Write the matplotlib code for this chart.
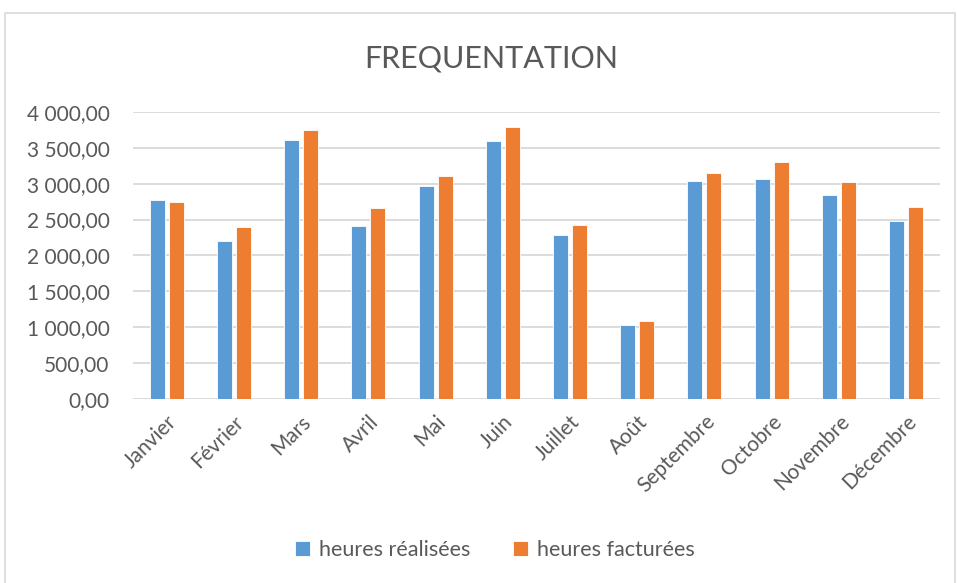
import numpy as np
import matplotlib
matplotlib.use("Agg")
import matplotlib.pyplot as plt
from matplotlib.ticker import FuncFormatter, MultipleLocator
from matplotlib.patches import Rectangle

months = ["Janvier", "Février", "Mars", "Avril", "Mai", "Juin", "Juillet",
          "Août", "Septembre", "Octobre", "Novembre", "Décembre"]
realisees = [2770, 2195, 3605, 2408, 2965, 3591, 2283, 1030, 3035, 3072, 2840, 2482]
facturees = [2752, 2394, 3749, 2659, 3104, 3786, 2427, 1090, 3146, 3304, 3021, 2677]

BLUE = "#5B9BD5"
ORANGE = "#ED7D31"
GRID = "#D9D9D9"
TEXT = "#595959"

plt.rcParams["font.family"] = ["Lato", "DejaVu Sans"]

fig = plt.figure(figsize=(9.57, 5.83), dpi=100)
fig.patches.append(Rectangle((5 / 957, -0.01), 950 / 957, 0.01 + 570 / 583,
                             transform=fig.transFigure, fill=False,
                             edgecolor=GRID, linewidth=1.2))

ax = fig.add_axes([0.139, 0.3156, 0.843, 0.4924])
x = np.arange(len(months))
w = 0.223
off = 0.141
ax.bar(x - off, realisees, w, color=BLUE, edgecolor="white", linewidth=0.6,
       label="heures réalisées", zorder=3)
ax.bar(x + off, facturees, w, color=ORANGE, edgecolor="white", linewidth=0.6,
       label="heures facturées", zorder=3)

ax.set_xlim(-0.5, len(months) - 0.5)
ax.set_ylim(0, 4000)
ax.yaxis.set_major_locator(MultipleLocator(500))
ax.yaxis.set_major_formatter(FuncFormatter(
    lambda v, p: f"{v:,.2f}".replace(",", " ").replace(".", ",")))
ax.grid(axis="y", color=GRID, linewidth=1.3, zorder=0)
for s in ax.spines.values():
    s.set_visible(False)
ax.tick_params(axis="both", length=0, colors=TEXT, labelsize=15)
ax.tick_params(axis="y", pad=17)
ax.set_xticks(x)
ax.set_xticklabels(months, rotation=45, ha="right", rotation_mode="anchor")
ax.tick_params(axis="x", pad=9)

fig.text(0.513, 0.9, "FREQUENTATION", ha="center", va="center",
         fontsize=22, color=TEXT)

fig.legend(loc="center", bbox_to_anchor=(0.517, 0.057), ncol=2, frameon=False,
           handlelength=0.7, handleheight=0.7, handletextpad=0.4,
           columnspacing=2.0, fontsize=15.5, labelcolor=TEXT)

fig.savefig("out.png", dpi=100)
